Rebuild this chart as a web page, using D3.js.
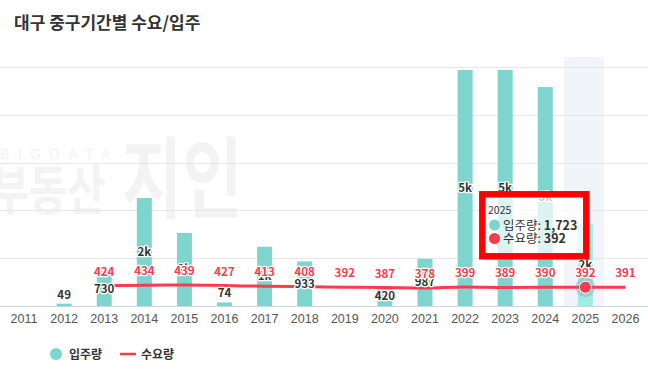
<!DOCTYPE html>
<html>
<head>
<meta charset="utf-8">
<script src="https://cdn.jsdelivr.net/npm/d3@7"></script>
<style>
  body { margin: 0; background: #fff; }
  svg { display: block; font-family: "Noto Sans CJK KR", "Noto Sans", sans-serif; }
</style>
</head>
<body>
<div id="chart"></div>
<script>
// data
const years = ["2011","2012","2013","2014","2015","2016","2017","2018","2019","2020","2021","2022","2023","2024","2025","2026"];
const supply = [null, 49, 730, 2260, 1530, 74, 1240, 933, null, 420, 987, 4940, 4940, 4580, 1723, null];   // 입주량
const demand = [null, null, 424, 434, 439, 427, 413, 408, 392, 387, 378, 399, 389, 390, 392, 391];       // 수요량
const yTicks = [0, 1000, 2000, 3000, 4000, 5000];
const hoverYear = "2025";

const W = 648, H = 373;
const teal = "#7dd5cd", red = "#f63c4e";

const svg = d3.select("#chart").append("svg")
    .attr("width", W)
    .attr("height", H);

// title
svg.append("text")
    .attr("x", 14).attr("y", 29)
    .attr("font-size", 17).attr("font-weight", 700)
    .attr("fill", "#333")
    .text("대구 중구기간별 수요/입주");

// scales
const x = d3.scaleBand().domain(years).range([4, 645.5]).padding(0);
const y = d3.scaleLinear().domain([0, 5000]).range([306, 67]);

// watermark
const wm = svg.append("g").attr("fill", "#f3f3f3");
wm.append("text").attr("x", 0).attr("y", 159)
    .attr("font-size", 14).attr("letter-spacing", 8.5).attr("font-family", "Liberation Sans")
    .text("BIGDATA");
wm.append("text")
    .attr("transform", "translate(-9,210) scale(0.92,1.2)")
    .attr("font-size", 45).attr("font-weight", 700)
    .text("부동산");
wm.append("text")
    .attr("transform", "translate(122,210) scale(0.82,1.1)")
    .attr("font-size", 80).attr("font-weight", 700)
    .text("지인");

// crosshair band
svg.append("rect")
    .attr("x", x(hoverYear) - 1.5).attr("y", 57)
    .attr("width", x.bandwidth()).attr("height", 306 - 57)
    .attr("fill", "rgba(204,214,235,0.28)");

// grid
svg.append("g").selectAll("line")
    .data(yTicks.filter(d => d > 0))
    .join("line")
    .attr("x1", 0).attr("x2", W)
    .attr("y1", d => Math.round(y(d)) + 0.5).attr("y2", d => Math.round(y(d)) + 0.5)
    .attr("stroke", "#e6e6e6");

// x axis
const xAxis = svg.append("g")
    .attr("transform", "translate(0,306)")
    .call(d3.axisBottom(x).tickSize(0).tickPadding(8));
xAxis.select(".domain").attr("stroke", "#ccd6eb").attr("d", `M0,0.5H${W}`);
xAxis.selectAll("text")
    .attr("font-family", "'Liberation Sans Narrow', 'Liberation Sans', sans-serif")
    .attr("font-size", 12.5).attr("fill", "#555");

// bars
const bw = 15;
const idx = years.map((d, i) => i);
svg.append("g").selectAll("rect")
    .data(idx.filter(i => supply[i] != null))
    .join("rect")
    .attr("x", i => x(years[i]) + x.bandwidth() / 2 - bw / 2)
    .attr("y", i => y(supply[i]))
    .attr("width", bw)
    .attr("height", i => y(0) - y(supply[i]))
    .attr("fill", i => years[i] === hoverYear ? "#a2ece6" : teal);

// line
const line = d3.line()
    .defined(i => demand[i] != null)
    .x(i => x(years[i]) + x.bandwidth() / 2)
    .y(i => y(demand[i]))
    .curve(d3.curveMonotoneX);
svg.append("path")
    .datum(idx)
    .attr("d", line)
    .attr("fill", "none")
    .attr("stroke", red)
    .attr("stroke-width", 3);

// bar labels
const fmt = v => v >= 1000 ? Math.round(v / 1000) + "k" : String(v);
svg.append("g").selectAll("text")
    .data(idx.filter(i => supply[i] != null))
    .join("text")
    .attr("x", i => x(years[i]) + x.bandwidth() / 2)
    .attr("y", i => {
        const h = y(0) - y(supply[i]);
        return h < 16 ? y(supply[i]) - 5 : (y(supply[i]) + y(0)) / 2 + 4;
    })
    .attr("text-anchor", "middle")
    .attr("font-size", 11.5).attr("font-weight", 700)
    .attr("fill", "#333")
    .attr("stroke", "#fff").attr("stroke-width", 2.5).attr("paint-order", "stroke")
    .attr("stroke-linejoin", "round")
    .text(i => fmt(supply[i]));

// hover marker
const hi = years.indexOf(hoverYear);
svg.append("circle")
    .attr("cx", x(hoverYear) + x.bandwidth() / 2).attr("cy", y(demand[hi]))
    .attr("r", 10).attr("fill", "#888").attr("opacity", 0.3);
svg.append("circle")
    .attr("cx", x(hoverYear) + x.bandwidth() / 2).attr("cy", y(demand[hi]))
    .attr("r", 6).attr("fill", red).attr("stroke", "#fff").attr("stroke-width", 1);

// line labels
svg.append("g").selectAll("text")
    .data(idx.filter(i => demand[i] != null))
    .join("text")
    .attr("x", i => x(years[i]) + x.bandwidth() / 2)
    .attr("y", i => y(demand[i]) - 10)
    .attr("text-anchor", "middle")
    .attr("font-size", 11.5).attr("font-weight", 700)
    .attr("fill", "#ff3a4c")
    .attr("stroke", "#fff").attr("stroke-width", 2.5).attr("paint-order", "stroke")
    .attr("stroke-linejoin", "round")
    .text(i => demand[i]);

// tooltip
const tip = svg.append("g");
tip.append("rect")
    .attr("x", 485).attr("y", 197).attr("width", 99).attr("height", 57)
    .attr("fill", "rgba(255,255,255,0.72)");
tip.append("rect")
    .attr("x", 482.3).attr("y", 194.3).attr("width", 104).attr("height", 62)
    .attr("fill", "none").attr("stroke", "#ff0000").attr("stroke-width", 6.5);
tip.append("text").attr("x", 488).attr("y", 214)
    .attr("font-size", 10.5).attr("fill", "#333").text(hoverYear);
tip.append("circle").attr("cx", 494.5).attr("cy", 225).attr("r", 5.5).attr("fill", teal);
tip.append("circle").attr("cx", 494.5).attr("cy", 238.5).attr("r", 5.5).attr("fill", red);
const t1 = tip.append("text").attr("x", 503).attr("y", 229.5).attr("font-size", 12.5).attr("fill", "#333");
t1.append("tspan").text("입주량: ");
t1.append("tspan").attr("font-weight", 700).text(d3.format(",")(supply[hi]));
const t2 = tip.append("text").attr("x", 503).attr("y", 243).attr("font-size", 12.5).attr("fill", "#333");
t2.append("tspan").text("수요량: ");
t2.append("tspan").attr("font-weight", 700).text(d3.format(",")(demand[hi]));

// legend
const lg = svg.append("g").attr("font-size", 12).attr("font-weight", 700).attr("fill", "#333");
lg.append("circle").attr("cx", 56).attr("cy", 354).attr("r", 6).attr("fill", teal);
lg.append("text").attr("x", 69).attr("y", 358.5).text("입주량");
lg.append("line").attr("x1", 120).attr("x2", 136).attr("y1", 354).attr("y2", 354)
    .attr("stroke", red).attr("stroke-width", 2.5);
lg.append("text").attr("x", 141).attr("y", 358.5).text("수요량");
</script>
</body>
</html>
